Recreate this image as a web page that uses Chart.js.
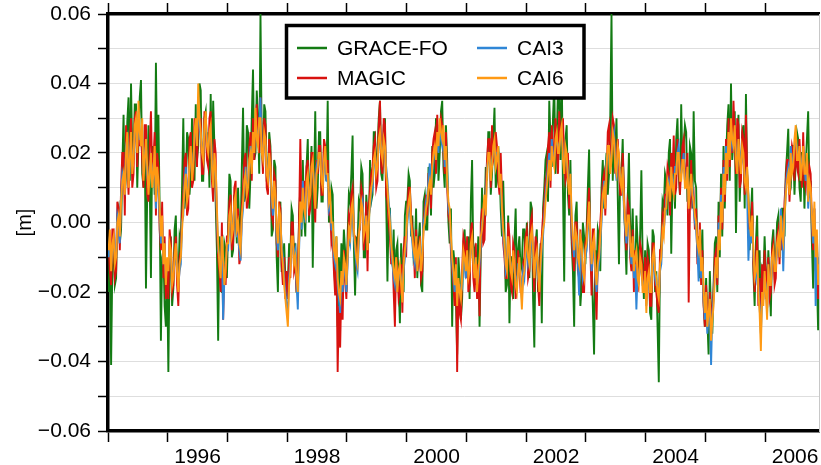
<!DOCTYPE html>
<html>
<head>
<meta charset="utf-8">
<script src="https://cdn.jsdelivr.net/npm/chart.js@4/dist/chart.umd.min.js"></script>
<style>
  html, body { margin: 0; padding: 0; background: #fff; }
  #wrap { width: 821px; height: 465px; }
</style>
</head>
<body>
<div id="wrap"><canvas id="chart" width="821" height="465"></canvas></div>
<script>
// time grid: one row per year, 48 samples per year
const YEARS = [1995, 1996, 1997, 1998, 1999, 2000, 2001, 2002, 2003, 2004, 2005, 2006];
const SAMPLES_PER_YEAR = 48;
const X_LABEL_YEARS = [1996, 1998, 2000, 2002, 2004, 2006];
const Y_TICKS = [-0.06, -0.05, -0.04, -0.03, -0.02, -0.01, 0, 0.01, 0.02, 0.03, 0.04, 0.05, 0.06];
const Y_LABELED = [-0.06, -0.04, -0.02, 0, 0.02, 0.04, 0.06];
const SERIES_NAMES = ['GRACE-FO', 'MAGIC', 'CAI3', 'CAI6'];
const SERIES_COLORS = ['#137b13', '#d8120f', '#2f86d6', '#ff9a14'];

// values in mm
const GRACE_FO_MM = [
  [-20,-8,-41,-12,-6,-18,-16,2,4,-6,-2,16,31,8,14,29,36,12,40,20,18,34,34,10,24,36,41,14,10,24,-19,8,28,12,-16,22,20,8,46,18,31,4,-34,-10,-8,-24,-30,-14],
  [-43,-10,-4,-24,-19,-2,2,-16,-16,-4,-6,10,30,4,10,26,24,8,14,30,20,12,34,18,22,40,38,12,12,30,32,20,26,10,37,14,35,22,6,-8,-34,-4,-12,-20,-20,-6,-8,-16],
  [-2,14,12,-10,-8,8,4,-6,10,-2,-4,16,33,6,8,28,26,4,14,30,44,18,20,38,30,14,60,24,16,34,32,12,10,26,22,-4,-2,18,16,-10,-20,4,6,-14,-14,-6,-16,-20],
  [-18,-6,-10,4,2,-14,-6,-20,-20,2,10,-4,18,2,-4,16,24,0,12,22,-13,10,32,4,10,26,26,6,6,22,20,12,35,0,2,10,8,-12,-18,-4,-30,-10,-22,-6,-14,-2,-8,-20],
  [-4,8,6,14,25,-6,-21,-4,-6,6,4,16,14,-10,-10,8,2,-6,18,6,8,26,26,12,20,30,35,14,12,28,30,6,-17,4,4,-10,-12,-2,-22,-8,-6,-18,-29,-6,-14,-20,2,6],
  [6,14,12,-4,2,-10,-8,4,-16,-6,0,-18,-20,6,8,-2,-2,16,10,2,22,10,14,30,28,12,20,32,35,16,10,28,18,0,-6,4,-30,-8,-12,-22,-38,-10,-16,-28,-22,-6,-2,-14],
  [-12,-4,-22,6,18,-10,-8,-18,-14,-4,-30,-8,10,-6,2,16,12,26,26,8,14,24,33,10,12,22,16,4,-4,12,-2,-20,-18,2,-29,-10,-10,-22,-6,4,-16,-8,-4,-14,-12,-2,-2,-10],
  [0,-8,-16,6,4,-22,-36,-6,-2,-20,-14,-6,-29,4,10,18,20,6,35,24,16,30,40,14,24,38,36,18,44,10,-17,24,28,8,2,18,-6,-14,-30,2,6,-12,-10,-24,-18,0,-4,-12],
  [-2,10,21,-6,-10,-24,-38,-8,-16,-2,-4,-14,10,18,4,14,20,8,14,30,60,12,26,20,30,8,-12,16,14,24,6,-4,-15,6,20,-2,-6,4,-12,-18,2,-6,-14,-4,15,-10,-22,-8],
  [-20,-6,-8,-26,-28,-2,-4,-20,-14,-30,-46,-10,-6,6,4,14,12,2,20,24,-9,12,16,4,24,30,14,8,34,16,22,28,26,6,8,22,20,4,32,12,10,-10,-4,-16,-12,-2,-23,-30],
  [-16,-28,-38,-14,-26,-32,-18,-6,-4,-20,6,-10,14,-4,22,4,18,28,34,12,40,18,24,32,-3,20,31,6,16,26,28,4,37,14,8,-8,2,10,-14,-24,-6,2,-20,-8,-29,-14,-16,-4],
  [-14,-22,-8,-16,-27,-6,-2,-14,-12,0,2,-10,-6,4,4,-4,14,20,27,8,10,22,22,8,18,26,24,10,6,20,20,4,16,24,32,10,12,-6,-19,0,-8,-16,-31,-20]
];
const MAGIC_MM = [
  [-6,-14,-18,-2,-2,-16,-14,6,4,-8,10,20,20,2,28,18,8,24,30,10,14,30,32,16,28,22,26,18,10,28,28,8,6,22,32,14,18,26,2,20,16,-2,-8,6,-16,-4,-22,-12],
  [-22,-2,-6,-20,-18,-8,-4,-18,-24,-10,-8,2,8,18,20,2,4,24,26,10,12,30,24,16,32,26,30,14,14,32,28,18,16,30,32,12,6,24,20,-2,-10,-14,-20,0,-28,-12,-18,-4],
  [-4,6,8,-8,-6,10,12,-4,4,-12,-10,4,10,18,20,4,6,22,26,12,30,18,28,34,26,20,36,24,14,30,28,10,8,24,20,2,0,14,12,-6,-10,6,4,-12,-18,-10,-22,-14],
  [-22,-10,-16,0,0,-14,-12,-20,-14,0,24,4,8,12,6,16,18,2,4,20,20,6,0,18,14,22,22,8,8,24,22,12,18,2,4,-6,-4,-14,-21,-8,-43,-24,-36,-18,-28,-8,-16,-22],
  [-8,2,0,8,10,-4,-4,-12,-10,-2,-2,10,8,-8,-4,6,-14,4,10,14,16,22,24,10,12,28,35,16,14,30,28,8,6,0,-4,-12,-8,-20,-30,-10,-14,-22,-20,-12,-26,-8,-4,-10],
  [4,10,10,2,-2,-6,-16,-2,-10,-12,-4,-16,-14,0,4,8,2,14,14,4,20,24,26,14,31,22,26,30,28,20,14,26,10,2,0,-8,-14,-18,-24,-10,-43,-20,-26,-28,-14,-4,-6,-16],
  [-4,-20,-18,-2,0,-16,-20,-6,-22,-12,-27,0,4,-6,-5,10,18,24,24,10,28,18,20,26,22,12,8,20,8,-6,-10,-16,-16,0,-4,-18,-20,-6,-8,-22,-18,-8,-14,-20,-20,-12,-10,-4],
  [-2,-16,-14,0,2,-12,-20,-4,-6,-18,-24,-8,-4,2,6,12,14,22,26,10,28,20,20,30,22,14,32,24,24,30,18,12,14,20,4,8,-4,-10,-14,0,0,-14,-16,-2,-10,-20,-20,-6],
  [-4,4,10,-8,-21,-2,-2,-18,-28,-10,-8,0,6,12,14,2,12,26,28,16,22,30,28,14,18,24,16,8,8,20,10,-4,-8,6,4,-10,-14,-2,-20,-8,-12,-20,-16,-6,-8,-16,-18,-10],
  [-22,-10,-12,-24,-24,-6,-6,-18,-20,-24,-26,-8,-8,2,0,8,8,16,14,2,20,14,25,8,10,24,18,8,16,22,24,12,14,20,-23,4,18,6,8,-2,4,-12,-10,0,-18,-8,-24,-30],
  [-18,-26,-29,-20,-30,-24,-20,-10,-8,-18,2,-6,10,-2,18,6,24,12,30,16,26,20,35,24,14,30,28,10,12,26,24,8,31,14,4,-6,-2,6,-12,-20,-10,-4,-24,-16,-28,-12,-20,-8],
  [-22,-14,-10,-22,-20,-8,-6,-18,-16,-4,-2,-12,0,-8,-4,6,12,18,18,6,16,22,20,12,24,16,14,24,16,10,26,12,10,18,8,16,14,-2,-8,4,-14,-6,-22,-16]
];
const CAI3_MM = [
  [-10,-4,-12,-8,-6,-10,-8,2,0,-6,8,14,12,10,22,24,12,16,24,16,20,26,28,22,32,24,24,28,14,20,22,14,10,16,18,12,16,20,4,14,10,2,-6,0,-10,-8,-16,-12],
  [-12,-8,-10,-16,-14,-12,-8,-12,-18,-14,-12,0,2,12,16,8,10,16,20,14,18,24,28,24,36,28,24,22,20,26,30,24,22,24,26,18,12,18,14,2,-8,-10,-14,-6,-28,-16,-12,-8],
  [-8,0,2,-2,0,4,6,-4,-4,-8,-11,0,4,10,16,10,12,16,22,16,24,22,30,26,24,28,36,22,20,24,22,16,14,18,14,6,2,10,6,-4,-8,2,0,-6,-10,-16,-20,-24],
  [-26,-16,-12,-6,-6,-10,-8,-18,-25,-8,4,-2,12,6,0,10,12,8,10,14,16,12,6,16,18,18,18,14,12,16,20,12,12,4,6,-2,-2,-10,-12,-6,-18,-22,-26,-16,-20,-12,-14,-20],
  [-12,-4,-6,2,4,-4,-8,-12,-14,-6,2,4,6,-2,0,0,-6,2,4,8,10,16,18,16,18,22,24,22,20,22,20,16,12,6,2,-8,-12,-16,-18,-12,-18,-16,-14,-16,-20,-14,-10,-6],
  [0,4,6,-2,-6,-10,-12,-6,-12,-10,-8,-12,-8,0,2,6,8,12,17,10,14,18,20,20,24,20,28,24,22,26,16,20,14,4,2,-6,-12,-16,-20,-14,-22,-18,-18,-20,-19,-10,-12,-16],
  [-10,-14,-12,-8,-6,-10,-14,-12,-18,-16,-12,-6,0,2,6,4,16,18,18,14,18,20,22,18,20,20,12,12,2,-4,-8,-14,-12,-6,-10,-12,-14,-10,-14,-16,-18,-12,-12,-16,-22,-14,-16,-10],
  [-6,-12,-10,-6,-4,-10,-14,-12,-10,-16,-18,-14,-8,-4,2,8,12,16,20,14,24,20,18,22,24,22,22,24,26,20,16,20,18,14,10,12,0,-6,-10,-4,-6,-12,-21,-8,-8,-16,-14,-10],
  [-8,-2,4,-6,-14,-8,-6,-16,-20,-14,-12,-6,0,6,12,6,18,20,20,16,20,24,26,18,12,20,18,14,12,14,4,-2,-6,0,0,-8,-12,-6,-16,-12,-25,-14,-16,-12,-14,-18,-18,-16],
  [-24,-18,-16,-18,-18,-12,-10,-16,-18,-18,-20,-14,-12,-4,-2,2,6,10,12,8,14,12,10,16,16,20,22,14,14,16,20,12,12,14,6,8,12,10,4,0,-2,-8,-17,-4,-16,-12,-22,-28],
  [-22,-32,-28,-24,-41,-26,-22,-14,-12,-14,0,-6,8,2,16,10,22,16,24,20,28,22,24,26,20,16,22,20,16,20,18,14,12,8,-11,-2,-6,0,-10,-14,-16,-10,-18,-24,-32,-22,-22,-16],
  [-18,-26,-14,-16,-16,-12,-10,-12,-12,-8,-6,-8,4,-2,-14,0,10,14,16,10,22,16,18,22,26,20,20,20,14,18,20,16,12,18,4,10,8,0,-6,4,-24,-4,-16,-10]
];
const CAI6_MM = [
  [-8,-2,-14,-6,-4,-12,-10,0,2,-4,6,12,14,8,20,26,10,18,26,14,18,28,30,20,35,26,22,30,12,18,24,16,8,14,20,10,14,22,6,16,12,4,-4,2,-12,-6,-18,-10],
  [-14,-6,-8,-18,-16,-10,-6,-14,-20,-12,-10,-2,4,10,14,6,8,18,22,12,16,26,30,22,40,30,26,20,18,28,32,22,20,26,28,16,10,20,16,4,-6,-12,-16,-4,-10,-18,-14,-6],
  [-6,2,4,-4,-2,6,8,-2,0,-6,-8,2,6,12,14,8,10,18,20,14,26,20,33,24,22,30,30,20,18,26,24,14,12,20,16,8,4,12,8,-2,-6,4,2,-8,-12,-18,-22,-26],
  [-30,-18,-14,-4,-4,-12,-10,-16,-20,-6,6,0,10,4,2,12,14,6,8,16,18,10,4,14,16,20,20,12,10,18,22,14,14,6,8,0,0,-8,-10,-4,-16,-20,-22,-14,-18,-10,-12,-18],
  [-10,-2,-4,4,6,-2,-6,-10,-12,-4,0,6,4,-4,-2,2,-8,0,6,10,12,18,20,14,16,24,26,20,18,24,22,14,10,4,0,-6,-10,-14,-16,-10,-20,-14,-12,-18,-23,-12,-8,-4],
  [2,6,8,0,-4,-8,-10,-4,-14,-8,-6,-14,-10,-2,0,4,6,10,12,8,16,20,22,18,26,22,30,26,24,28,18,22,12,6,4,-4,-10,-14,-18,-12,-24,-16,-20,-22,-16,-8,-10,-14],
  [-8,-16,-14,-6,-4,-12,-16,-10,-20,-14,-10,-4,-2,4,8,2,14,20,20,12,16,22,24,16,18,22,10,14,4,-2,-6,-12,-14,-4,-8,-14,-16,-8,-12,-18,-20,-14,-10,-18,-25,-16,-14,-8],
  [-4,-10,-12,-4,-2,-8,-16,-10,-8,-14,-20,-12,-6,-2,0,6,10,14,18,12,22,18,16,24,26,20,20,26,28,18,14,22,20,12,8,14,2,-4,-8,-2,-4,-10,-12,-4,-6,-14,-16,-8],
  [-6,0,6,-4,-12,-6,-4,-14,-18,-12,-10,-4,2,8,10,4,16,22,22,14,18,26,24,16,14,22,20,12,10,16,6,0,-4,2,2,-6,-10,-4,-14,-10,-8,-16,-18,-10,-12,-20,-20,-14],
  [-26,-16,-14,-20,-20,-10,-8,-14,-16,-20,-22,-12,-10,-2,-4,4,4,12,10,6,16,10,8,14,14,20,20,12,12,18,18,10,10,16,4,10,14,8,6,2,0,-6,-8,-2,-14,-10,-20,-26],
  [-20,-30,-26,-22,-34,-28,-24,-16,-10,-16,-2,-8,6,0,14,8,20,14,26,18,30,24,22,28,18,14,24,18,14,22,20,12,10,16,6,0,-4,2,-8,-16,-14,-8,-20,-26,-37,-20,-24,-14],
  [-20,-28,-12,-18,-18,-10,-8,-14,-14,-6,-4,-10,2,-4,-6,2,8,12,14,8,20,14,16,24,28,18,18,22,12,16,22,14,14,20,6,12,10,2,-4,6,-10,-2,-18,-12]
];

function toPoints(rows) {
  const pts = [];
  rows.forEach((row, i) => {
    row.forEach((mm, k) => {
      pts.push({ x: YEARS[i] + (k + 0.5) / SAMPLES_PER_YEAR, y: mm / 1000 });
    });
  });
  return pts;
}

const FONT = 'Liberation Sans, Arial, Helvetica, sans-serif';
const ALL_ROWS = [GRACE_FO_MM, MAGIC_MM, CAI3_MM, CAI6_MM];

// legend drawn inside the plot with a heavy frame
const legendBox = {
  id: 'legendBox',
  afterDatasetsDraw(chart) {
    const ctx = chart.ctx;
    ctx.save();
    ctx.fillStyle = '#fff';
    ctx.fillRect(286.5, 25.5, 297.5, 72.5);
    ctx.lineWidth = 3.5;
    ctx.strokeStyle = '#000';
    ctx.strokeRect(286.5, 25.5, 297.5, 72.5);
    const cols = [297, 477];
    const rows = [48, 78];
    ctx.font = '21px ' + FONT;
    ctx.textBaseline = 'middle';
    ctx.textAlign = 'left';
    SERIES_NAMES.forEach((name, i) => {
      const cx = cols[Math.floor(i / 2)];
      const cy = rows[i % 2];
      ctx.strokeStyle = SERIES_COLORS[i];
      ctx.lineWidth = 2.5;
      ctx.beginPath();
      ctx.moveTo(cx, cy);
      ctx.lineTo(cx + 30, cy);
      ctx.stroke();
      ctx.fillStyle = '#000';
      ctx.fillText(name, cx + 40, cy + 1);
    });
    ctx.restore();
  }
};

const yearTicks = [];
YEARS.forEach(y => { yearTicks.push({ value: y }); yearTicks.push({ value: y + 0.5 }); });

new Chart(document.getElementById('chart'), {
  type: 'line',
  data: {
    datasets: ALL_ROWS.map((rows, i) => ({
      label: SERIES_NAMES[i],
      data: toPoints(rows),
      borderColor: SERIES_COLORS[i],
      borderWidth: 1.9,
      pointRadius: 0,
      tension: 0,
      fill: false,
      order: 4 - i
    }))
  },
  options: {
    responsive: false,
    animation: false,
    layout: { padding: 0 },
    plugins: { legend: { display: false }, tooltip: { enabled: false } },
    scales: {
      x: {
        type: 'linear',
        position: 'bottom',
        min: 1995,
        max: 2006.9,
        afterBuildTicks(scale) { scale.ticks = yearTicks.map(t => ({ value: t.value })); },
        afterFit(scale) { scale.height = 34; scale.paddingLeft = 0; scale.paddingRight = 0; },
        ticks: {
          autoSkip: false,
          maxRotation: 0,
          padding: 3,
          color: '#000',
          font: { size: 21, family: FONT },
          callback(value) {
            const y = value - 0.5;
            return X_LABEL_YEARS.includes(y) ? String(y) : '';
          }
        },
        grid: {
          drawOnChartArea: false,
          tickLength: 11,
          tickWidth: 1.5,
          tickColor: ctx => Number.isInteger(ctx.tick.value) ? '#000' : 'rgba(0,0,0,0)'
        },
        border: { color: '#000', width: 3.5 }
      },
      xTop: {
        type: 'linear',
        position: 'top',
        min: 1995,
        max: 2006.9,
        afterBuildTicks(scale) { scale.ticks = YEARS.map(y => ({ value: y })); },
        afterFit(scale) { scale.height = 14; scale.paddingLeft = 0; scale.paddingRight = 0; },
        ticks: { display: false },
        grid: { drawOnChartArea: false, tickLength: 11, tickWidth: 1.5, tickColor: '#000' },
        border: { color: '#000', width: 3.5 }
      },
      y: {
        min: -0.06,
        max: 0.06,
        afterBuildTicks(scale) { scale.ticks = Y_TICKS.map(v => ({ value: v })); },
        afterFit(scale) { scale.width = 108; scale.paddingTop = 0; scale.paddingBottom = 0; },
        ticks: {
          autoSkip: false,
          padding: 7,
          color: '#000',
          font: { size: 21, family: FONT },
          callback(value) {
            if (!Y_LABELED.some(l => Math.abs(l - value) < 1e-9)) return '';
            return value.toFixed(2).replace('-', '\u2212');
          }
        },
        grid: { color: '#dedede', lineWidth: 1, tickLength: 10, tickWidth: 1.5, tickColor: '#000' },
        border: { color: '#000', width: 3.5 },
        title: {
          display: true,
          text: '[m]',
          color: '#000',
          font: { size: 20, family: FONT },
          padding: { top: 13, bottom: 0 }
        }
      },
      yRight: {
        position: 'right',
        min: -0.06,
        max: 0.06,
        afterFit(scale) { scale.width = 2; scale.paddingTop = 0; scale.paddingBottom = 0; },
        ticks: { display: false },
        grid: { drawOnChartArea: false, drawTicks: false },
        border: { color: '#c8c8c8', width: 1 }
      }
    }
  },
  plugins: [legendBox]
});
</script>
</body>
</html>
